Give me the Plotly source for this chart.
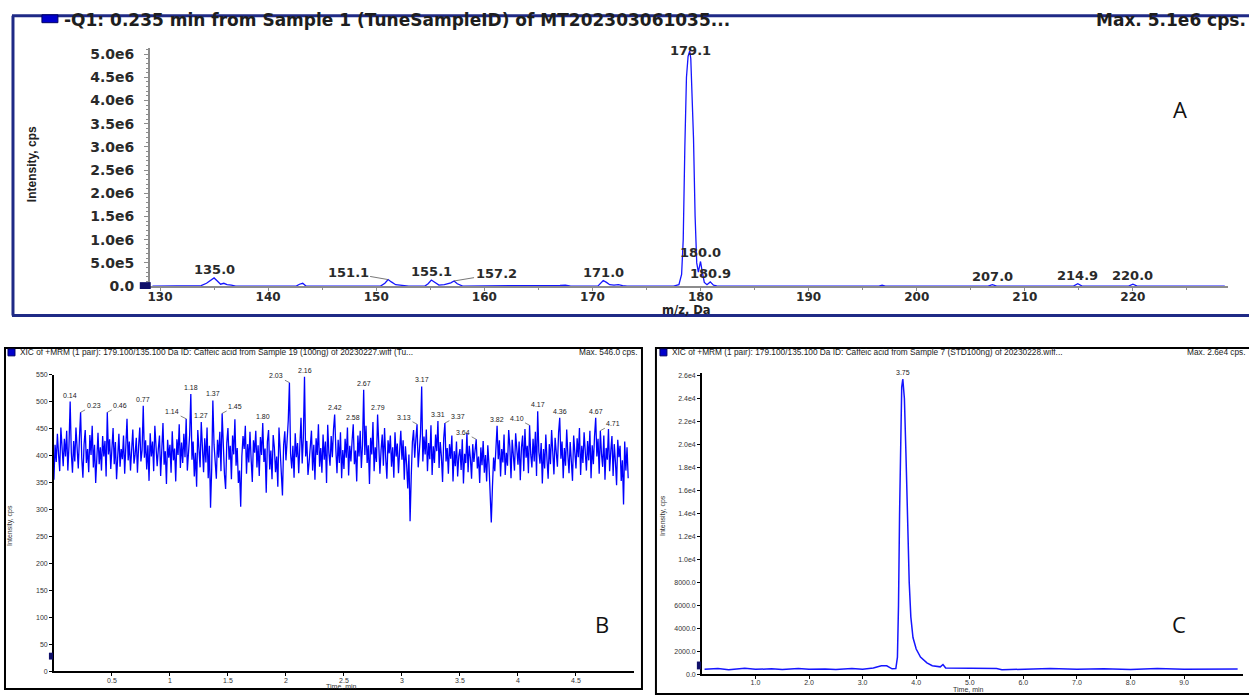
import plotly.graph_objects as go

W, H = 1249, 700

def px(x):
    return x / W

def py(y):
    return 1 - y / H

# ---------------- Panel A: Q1 spectrum ----------------
A_MZ = [129.3, 133.0, 133.8, 134.3, 134.7, 135.0, 135.3, 135.6, 135.9, 136.2, 136.6, 137.0,
        138.5, 142.6, 142.9, 143.2, 143.5, 148.0, 150.4, 150.8, 151.1, 151.4, 151.8, 152.2,
        152.6, 153.0, 154.5, 154.8, 155.1, 155.4, 155.8, 156.3, 156.9, 157.2, 157.5, 158.0,
        166.0, 167.0, 167.5, 168.0, 170.5, 170.8, 171.0, 171.3, 171.6, 172.0, 172.4, 172.8,
        173.2, 177.5, 178.0, 178.25, 178.4, 178.55, 178.7, 178.85, 179.0, 179.1, 179.2,
        179.35, 179.5, 179.65, 179.8, 180.0, 180.15, 180.35, 180.6, 180.9, 181.2, 181.5,
        182.0, 196.5, 196.8, 197.1, 206.6, 207.0, 207.4, 214.5, 214.9, 215.3, 219.6, 220.0,
        220.4, 226.0, 228.5]
A_INT = [0, 0, 1.0e4, 6.0e4, 1.2e5, 1.75e5, 1.1e5, 4.0e4, 6.0e4, 3.0e4, 2.0e4, 0,
         0, 0, 4.0e4, 6.0e4, 0, 0, 0, 6.0e4, 1.4e5, 9.0e4, 3.0e4, 2.0e4,
         1.0e4, 0, 0, 5.0e4, 1.3e5, 8.0e4, 2.0e4, 3.0e4, 7.0e4, 1.1e5, 5.0e4, 0,
         0, 1.5e4, 2.0e4, 0, 0, 6.0e4, 1.2e5, 8.0e4, 3.0e4, 2.0e4, 3.0e4, 1.0e4,
         0, 0, 3.0e4, 2.5e5, 1.0e6, 3.0e6, 4.5e6, 4.95e6, 5.07e6, 4.9e6, 4.3e6,
         3.2e6, 1.5e6, 5.0e5, 3.0e5, 5.3e5, 3.2e5, 8.0e4, 3.0e4, 9.0e4, 2.0e4, 5.0e3,
         0, 0, 2.0e4, 0, 0, 3.0e4, 0, 0, 5.0e4, 0, 0, 4.0e4,
         0, 0, 0]
A_LABELS = ["135.0", "151.1", "155.1", "157.2", "171.0", "179.1", "180.0", "180.9",
            "207.0", "214.9", "220.0"]
A_XTICKS = [130, 140, 150, 160, 170, 180, 190, 200, 210, 220]
A_YTICKS = [0, 5.0e5, 1.0e6, 1.5e6, 2.0e6, 2.5e6, 3.0e6, 3.5e6, 4.0e6, 4.5e6, 5.0e6]
A_YTEXT = ["0.0", "5.0e5", "1.0e6", "1.5e6", "2.0e6", "2.5e6", "3.0e6", "3.5e6", "4.0e6",
           "4.5e6", "5.0e6"]

# ---------------- Panel B: XIC (sample), 0.01 min sampling ----------------
B_T0 = 0.0
B_DT = 0.01
B_INT = [
    355, 420, 388, 440, 402, 371, 452, 415, 380, 431,
    398, 446, 372, 418, 500, 405, 368, 427, 389, 452,
    410, 376, 433, 480, 395, 359, 421, 447, 386, 412,
    369, 438, 401, 455, 378, 420, 349, 411, 442, 384,
    415, 372, 436, 398, 427, 361, 480, 402, 430, 375,
    409, 451, 384, 425, 356, 418, 440, 379, 412, 393,
    437, 366, 420, 468, 391, 426, 372, 414, 448, 385,
    402, 433, 368, 417, 452, 389, 410, 492, 396, 428,
    374, 419, 353, 441, 398, 426, 371, 455, 404, 380,
    412, 437, 362, 421, 460, 383, 408, 347, 429, 396,
    420, 368, 445, 391, 413, 352, 430, 401, 458, 377,
    424, 386, 440, 397, 468, 372, 415, 438, 514, 392,
    426, 361, 405, 342, 447, 399, 378, 462, 411, 369,
    432, 387, 452, 358, 418, 303, 376, 502, 421, 389,
    357, 429, 396, 444, 371, 478, 410, 365, 338, 423,
    451, 392, 418, 356, 437, 402, 467, 381, 414, 349,
    372, 305, 398, 436, 412, 455, 366, 421, 387, 444,
    393, 351, 428, 405, 446, 378, 419, 362, 434, 401,
    460, 388, 413, 331, 426, 447, 374, 409, 356, 438,
    415, 369, 398, 342, 452, 407, 381, 326, 419, 445,
    391, 428, 465, 535, 403, 376, 418, 359, 441, 397,
    423, 367, 412, 470, 385, 433, 546, 398, 427, 364,
    388, 411, 446, 372, 420, 355, 432, 401, 458, 379,
    414, 368, 439, 392, 426, 349, 457, 405, 381, 436,
    397, 448, 476, 412, 367, 429, 386, 443, 358, 410,
    375, 431, 396, 452, 363, 418, 389, 427, 458, 384,
    409, 352, 437, 398, 446, 377, 420, 522, 401, 455,
    386, 419, 347, 433, 402, 462, 371, 415, 388, 476,
    424, 366, 410, 439, 381, 451, 395, 357, 428, 404,
    437, 379, 415, 359, 443, 398, 422, 367, 409, 446,
    392, 428, 355, 417, 384, 339, 402, 278, 361, 425,
    447, 396, 431, 458, 378, 412, 440, 528, 389, 435,
    402, 448, 371, 423, 393, 456, 364, 417, 386, 439,
    408, 464, 377, 425, 398, 351, 432, 460, 389, 414,
    366, 421, 394, 437, 352, 408, 380, 426, 361, 399,
    412, 373, 430, 348, 403, 386, 441, 369, 418, 395,
    357, 421, 388, 409, 430, 376, 398, 349, 415, 382,
    427, 368, 401, 352, 419, 384, 337, 276, 342, 396,
    371, 418, 455, 393, 428, 361, 412, 387, 439, 364,
    405, 381, 447, 416, 358, 429, 394, 372, 441, 408,
    383, 426, 354, 415, 437, 371, 449, 396, 418, 367,
    456, 402, 378, 431, 389, 444, 362, 482, 407, 385,
    423, 348, 412, 376, 439, 393, 357, 421, 384, 447,
    398, 365, 433, 411, 379, 442, 470, 394, 426, 358,
    414, 381, 448, 402, 367, 425, 389, 353, 437, 409,
    376, 432, 397, 451, 364, 418, 386, 443, 409, 372,
    427, 391, 446, 358, 419, 384, 436, 470, 398, 431,
    366, 446, 402, 379, 437, 355, 414, 392, 449, 371,
    408, 436, 362, 421, 388, 345, 429, 397, 418, 353,
    391, 309, 426, 372, 415, 358,
]
B_LABELS = ["0.14", "0.23", "0.46", "0.77", "1.14", "1.18", "1.27", "1.37", "1.45", "1.80",
            "2.03", "2.16", "2.42", "2.58", "2.67", "2.79", "3.13", "3.17", "3.31", "3.37",
            "3.64", "3.82", "4.10", "4.17", "4.36", "4.67", "4.71"]
B_XTICKS = [0.5, 1.0, 1.5, 2.0, 2.5, 3.0, 3.5, 4.0, 4.5]
B_YTICKS = [0, 50, 100, 150, 200, 250, 300, 350, 400, 450, 500, 550]

# ---------------- Panel C: XIC (standard) ----------------
C_T = [0.05, 0.3, 0.5, 0.8, 1.0, 1.3, 1.5, 1.8, 2.0, 2.3, 2.5, 2.8, 3.0, 3.2, 3.35, 3.45,
       3.55, 3.62, 3.65, 3.67, 3.69, 3.71, 3.73, 3.75, 3.78, 3.81, 3.84, 3.87, 3.90, 3.94,
       4.00, 4.08, 4.20, 4.30, 4.45, 4.50, 4.55, 5.0, 5.5, 5.6, 6.0, 6.5, 7.0, 7.5, 8.0,
       8.5, 9.0, 9.5, 10.0]
C_INT = [450, 500, 400, 520, 430, 480, 420, 510, 440, 470, 410, 500, 450, 550, 750, 740,
         480, 500, 1500, 6000, 14000, 21000, 25000, 25700, 24000, 19000, 13000, 8000, 5000,
         3200, 2200, 1500, 1000, 750, 650, 850, 550, 520, 500, 400, 450, 500, 430, 480, 420,
         500, 450, 490, 470]
C_LABEL = "3.75"
C_XTICKS = [1, 2, 3, 4, 5, 6, 7, 8, 9]
C_XTEXT = ["1.0", "2.0", "3.0", "4.0", "5.0", "6.0", "7.0", "8.0", "9.0"]
C_YTICKS = [0, 2000, 4000, 6000, 8000, 10000, 12000, 14000, 16000, 18000, 20000, 22000,
            24000, 26000]
C_YTEXT = ["0.0", "2000.0", "4000.0", "6000.0", "8000.0", "1.0e4", "1.2e4", "1.4e4", "1.6e4",
           "1.8e4", "2.0e4", "2.2e4", "2.4e4", "2.6e4"]

BLUE = "#1515ff"
NAVY = "#1f2a86"
XBOLD = dict(family="DejaVu Sans", size=12, color="#2a2a2a", weight="bold")
YBOLD = dict(family="DejaVu Sans", size=14, color="#2a2a2a", weight="bold")
TINY = dict(family="Liberation Sans", size=7, color="#333333")

fig = go.Figure()
fig.add_trace(go.Scatter(x=A_MZ, y=A_INT, mode="lines", line=dict(color=BLUE, width=1.3),
                         xaxis="x", yaxis="y", hoverinfo="skip"))
fig.add_trace(go.Scatter(y=B_INT, x0=B_T0, dx=B_DT, mode="lines",
                         line=dict(color="#0000ff", width=1.3), xaxis="x2", yaxis="y2",
                         hoverinfo="skip"))
fig.add_trace(go.Scatter(x=C_T, y=C_INT, mode="lines", line=dict(color=BLUE, width=1.5),
                         xaxis="x3", yaxis="y3", hoverinfo="skip"))

grey = "#8c8c8c"
fig.update_layout(
    width=W, height=H, autosize=False,
    margin=dict(l=0, r=0, t=0, b=0, pad=0),
    paper_bgcolor="white", plot_bgcolor="white", showlegend=False,
    xaxis=dict(domain=[px(148), px(1228)], range=[129.05, 228.8], anchor="y",
               tickvals=A_XTICKS, ticks="outside", ticklen=3, tickcolor=grey,
               showline=True, linecolor=grey, linewidth=1.5, showgrid=False, zeroline=False,
               tickfont=XBOLD, ticklabelstandoff=-4,
               minor=dict(dtick=5, ticks="outside", ticklen=2, tickcolor=grey)),
    yaxis=dict(domain=[py(287), py(45)], range=[0, 5.127e6], anchor="x",
               tickvals=A_YTICKS, ticktext=A_YTEXT, ticks="outside", ticklen=4,
               tickcolor=grey, showline=True, linecolor=grey, linewidth=1.5,
               showgrid=False, zeroline=False, tickfont=YBOLD, ticklabelstandoff=7,
               minor=dict(dtick=1e5, ticks="outside", ticklen=2, tickcolor=grey)),
    xaxis2=dict(domain=[px(52), px(633)], range=[0.0, 5.0], anchor="y2",
                tickvals=B_XTICKS, ticks="outside", ticklen=3, tickcolor="black",
                showline=True, linecolor="black", linewidth=1.5, showgrid=False,
                zeroline=False, tickfont=TINY, ticklabelstandoff=-2),
    yaxis2=dict(domain=[py(679), py(377)], range=[0, 550], anchor="x2",
                tickvals=B_YTICKS, ticks="outside", ticklen=3, tickcolor="black",
                showline=True, linecolor="black", linewidth=1.5, showgrid=False,
                zeroline=False, tickfont=TINY),
    xaxis3=dict(domain=[px(701), px(1243)], range=[0.0, 10.1], anchor="y3",
                tickvals=C_XTICKS, ticktext=C_XTEXT, ticks="outside", ticklen=3,
                tickcolor="black", showline=True, linecolor="black", linewidth=1.5,
                showgrid=False, zeroline=False, tickfont=TINY, ticklabelstandoff=-2),
    yaxis3=dict(domain=[py(682), py(375)], range=[0, 26260], anchor="x3",
                tickvals=C_YTICKS, ticktext=C_YTEXT, ticks="outside", ticklen=3,
                tickcolor="black", showline=True, linecolor="black", linewidth=1.5,
                showgrid=False, zeroline=False, tickfont=TINY),
)

shapes = []
# Panel A frame (navy)
shapes.append(dict(type="line", xref="paper", yref="paper", x0=px(10), x1=px(1252),
                   y0=py(12), y1=py(12), line=dict(color=NAVY, width=3)))
shapes.append(dict(type="line", xref="paper", yref="paper", x0=px(10), x1=px(1252),
                   y0=py(317), y1=py(317), line=dict(color=NAVY, width=3)))
shapes.append(dict(type="line", xref="paper", yref="paper", x0=px(11), x1=px(11),
                   y0=py(12), y1=py(317), line=dict(color=NAVY, width=3)))
# Panel B and C frames
shapes.append(dict(type="rect", xref="paper", yref="paper", x0=px(3), x1=px(641),
                   y0=py(697), y1=py(350), line=dict(color="black", width=2)))
shapes.append(dict(type="rect", xref="paper", yref="paper", x0=px(655), x1=px(1253),
                   y0=py(702), y1=py(350), line=dict(color="black", width=2)))
# legend squares
for (x0, x1, y0, y1) in [(40, 56, 11, 19), (6, 13, 351, 358), (659, 666, 351, 358)]:
    shapes.append(dict(type="rect", xref="paper", yref="paper", x0=px(x0), x1=px(x1),
                       y0=py(y1), y1=py(y0), fillcolor="#0000cc",
                       line=dict(color="#000066", width=1)))
# small origin markers
for (x0, x1, y0, y1) in [(138, 149, 283, 290), (47, 51, 660, 667), (696, 700, 669, 677)]:
    shapes.append(dict(type="rect", xref="paper", yref="paper", x0=px(x0), x1=px(x1),
                       y0=py(y1), y1=py(y0), fillcolor="#10106a", line=dict(width=0)))
fig.update_layout(shapes=shapes)

ann = []

def text(x, y, s, font, xanchor="left", angle=0):
    ann.append(dict(x=px(x), y=py(y), xref="paper", yref="paper", text=s, showarrow=False,
                    font=font, xanchor=xanchor, yanchor="middle", textangle=angle))

# Panel A texts
TF = dict(family="DejaVu Sans", size=17, color="#1e1e1e", weight="bold")
text(60, 16, "-Q1: 0.235 min from Sample 1 (TuneSampleID) of MT202303061035...", TF)
text(1248, 16, "Max. 5.1e6 cps.", TF, xanchor="right")
text(30, 163, "Intensity, cps", dict(family="Liberation Sans", size=12,
                                        color="#222222", weight="bold"), "center", -90)
text(686, 311, "m/z, Da", dict(family="DejaVu Sans", size=11.5, color="#222222",
                                 weight="bold"), "center")
LET = dict(family="Open Sans", size=22, color="#111111")
text(1180, 107, "A", LET, "center")
text(601, 631, "B", LET, "center")
text(1179, 631, "C", LET, "center")

# Panel B/C header texts
HF = dict(family="Liberation Sans", size=8.3, color="#222222")
text(16, 354, "XIC of +MRM (1 pair): 179.100/135.100 Da ID: Caffeic acid from Sample 19 "
     "(100ng) of 20230227.wiff (Tu...", HF)
text(639, 354, "Max. 546.0 cps.", HF, xanchor="right")
text(669, 354, "XIC of +MRM (1 pair): 179.100/135.100 Da ID: Caffeic acid from Sample 7 "
     "(STD100ng) of 20230228.wiff...", HF)
text(1248, 354, "Max. 2.6e4 cps.", HF, xanchor="right")
text(340, 694, "Time, min", TINY, "center")
text(968, 697, "Time, min", TINY, "center")
text(8, 530, "Intensity, cps", TINY, "center", -90)
text(662, 520, "Intensity, cps", TINY, "center", -90)

# Panel A peak labels (positions taken from the data)
LF = dict(family="DejaVu Sans", size=13, color="#2a2a2a", weight="bold")
a_leaders = {"151.1": (-40, -7), "157.2": (42, -7)}
for lab in A_LABELS:
    mz = float(lab)
    i = A_MZ.index(mz)
    if lab in a_leaders:
        ax, ay = a_leaders[lab]
        ann.append(dict(x=mz, y=A_INT[i], xref="x", yref="y", text=lab, showarrow=True,
                        ax=ax, ay=ay, arrowhead=0, arrowwidth=0.8, arrowcolor="#555555",
                        font=LF))
    else:
        ann.append(dict(x=mz, y=A_INT[i], xref="x", yref="y", text=lab, showarrow=False,
                        yanchor="bottom", yshift=-1, font=LF))

# Panel B peak labels
BL = dict(family="Liberation Sans", size=7, color="#222222")
b_leaders = {"0.23": 13, "0.46": 13, "1.14": -14, "1.45": 13, "2.03": -13, "3.13": -13,
             "3.37": 13, "3.64": -13, "4.10": -13, "4.71": 13}
for lab in B_LABELS:
    t = float(lab)
    i = int(round((t - B_T0) / B_DT))
    if lab in b_leaders:
        ann.append(dict(x=t, y=B_INT[i], xref="x2", yref="y2", text=lab, showarrow=True,
                        ax=b_leaders[lab], ay=-7, arrowhead=0, arrowwidth=0.6,
                        arrowcolor="#333333", font=BL))
    else:
        ann.append(dict(x=t, y=B_INT[i], xref="x2", yref="y2", text=lab, showarrow=False,
                        yanchor="bottom", yshift=1, font=BL))

# Panel C peak label
ci = C_T.index(float(C_LABEL))
ann.append(dict(x=C_T[ci], y=C_INT[ci], xref="x3", yref="y3", text=C_LABEL, showarrow=False,
                yanchor="bottom", yshift=1, font=BL))

fig.update_layout(annotations=ann)
fig.write_html("out.html")
